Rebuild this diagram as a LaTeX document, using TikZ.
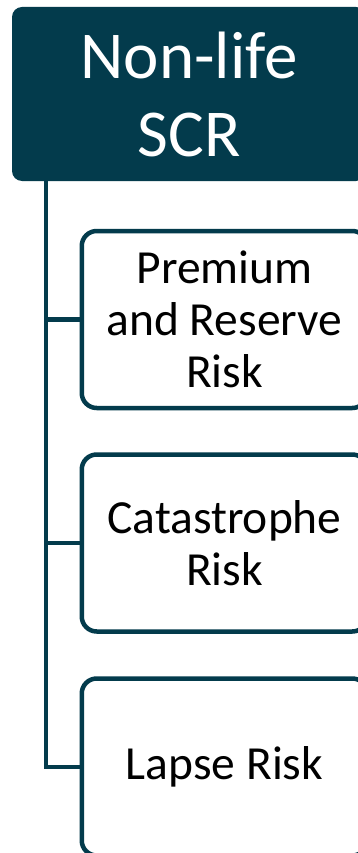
\documentclass[tikz,border=0pt]{standalone}
\usepackage{fontspec}
\setmainfont{Carlito}
\definecolor{teal}{RGB}{3,59,76}
\begin{document}
\begin{tikzpicture}[x=1pt,y=-1pt,
  topbox/.style={draw=none,fill=teal,rounded corners=10pt,minimum width=354pt,minimum height=174pt,
    text=white,align=center,inner sep=0pt,font=\fontsize{67}{78}\selectfont},
  childbox/.style={draw=teal,line width=4.5pt,fill=white,rounded corners=15pt,minimum width=285.5pt,minimum height=177pt,
    text=black,align=center,inner sep=0pt,font=\fontsize{47.5}{52}\selectfont},
  conn/.style={draw=teal,line width=4.5pt}]
\useasboundingbox (0,0) rectangle (358,853);
\clip (0,0) rectangle (358,853);
\fill[white] (0,0) rectangle (358,853);
\node[topbox] (top) at (189,94) {Non-life\\SCR};
\node[childbox] (b1) at (224.5,319.5) {Premium\\and Reserve\\Risk};
\node[childbox] (b2) at (224.5,543) {Catastrophe\\Risk};
\node[childbox] (b3) at (224.5,767) {Lapse Risk};
\coordinate (trunk) at (46,181);
\draw[conn] (trunk) |- (b3.west);
\draw[conn] (trunk |- b1.west) -- (b1.west);
\draw[conn] (trunk |- b2.west) -- (b2.west);
\end{tikzpicture}
\end{document}
